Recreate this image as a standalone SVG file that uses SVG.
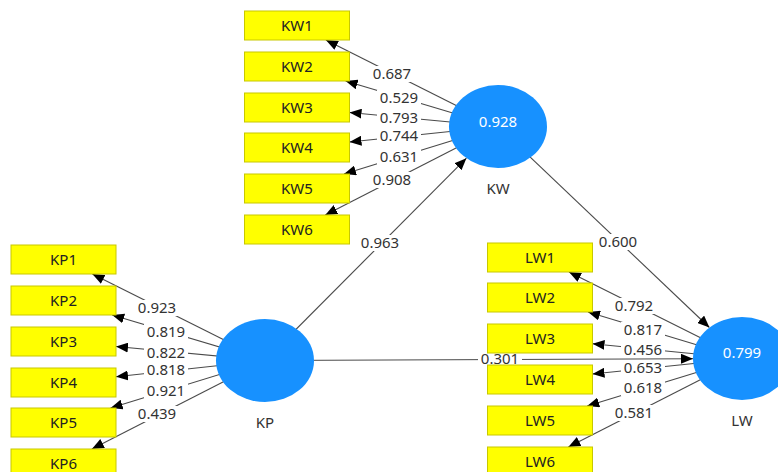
<svg xmlns="http://www.w3.org/2000/svg" width="778" height="472" viewBox="0 0 778 472">
<style>
  .ind rect{fill:#ffff00;stroke:#c8c800;stroke-width:1}
  .ind text{font-family:"Noto Sans","Open Sans",sans-serif;font-size:15px;fill:#222;text-anchor:middle}
  .lv ellipse{fill:#1791ff}
  .lv .v{font-family:"Noto Sans","Open Sans",sans-serif;font-size:15px;fill:#ffffff;text-anchor:middle}
  .lv .n{font-family:"Noto Sans","Open Sans",sans-serif;font-size:15px;fill:#333;text-anchor:middle}
  .conn line{stroke:#4a4a4a;stroke-width:1.1;marker-end:url(#ah)}
  .lbl rect{fill:#ffffff}
  .lbl text{font-family:"Noto Sans","Open Sans",sans-serif;font-size:15px;fill:#333;text-anchor:middle}
</style>
<defs>
  <marker id="ah" markerUnits="userSpaceOnUse" viewBox="0 0 12 10" refX="12" refY="5" markerWidth="12" markerHeight="10" orient="auto">
    <path d="M0,0 L12,5 L0,10 z" fill="#000"/>
  </marker>
</defs>
<rect width="778" height="472" fill="#ffffff"/>

<g id="connectors" class="conn">
  <!-- structural -->
  <line x1="265" y1="360.5" x2="466.4" y2="158.2"/>
  <line x1="498" y1="126.5" x2="709.4" y2="327.5"/>
  <line x1="265" y1="360.5" x2="693" y2="358.7"/>
  <!-- KW loadings -->
  <line x1="498" y1="126.5" x2="325.9" y2="40"/>
  <line x1="498" y1="126.5" x2="345.6" y2="81"/>
  <line x1="498" y1="126.5" x2="349.5" y2="112.5"/>
  <line x1="498" y1="126.5" x2="349.5" y2="142"/>
  <line x1="498" y1="126.5" x2="344" y2="174"/>
  <line x1="498" y1="126.5" x2="325.3" y2="215"/>
  <!-- KP loadings -->
  <line x1="265" y1="360.5" x2="92.4" y2="274"/>
  <line x1="265" y1="360.5" x2="112.2" y2="315"/>
  <line x1="265" y1="360.5" x2="116" y2="346.5"/>
  <line x1="265" y1="360.5" x2="116" y2="376.8"/>
  <line x1="265" y1="360.5" x2="110.6" y2="408"/>
  <line x1="265" y1="360.5" x2="91.9" y2="449"/>
  <!-- LW loadings -->
  <line x1="742" y1="358.5" x2="569" y2="272"/>
  <line x1="742" y1="358.5" x2="588" y2="312"/>
  <line x1="742" y1="358.5" x2="592.5" y2="343.7"/>
  <line x1="742" y1="358.5" x2="592.5" y2="374"/>
  <line x1="742" y1="358.5" x2="587.2" y2="406"/>
  <line x1="742" y1="358.5" x2="568.4" y2="447"/>

  <g class="lbl">
    <rect x="358" y="235" width="44" height="16"/><text x="380" y="248.4">0.963</text>
    <rect x="596" y="234" width="44" height="16"/><text x="618" y="247.4">0.600</text>
    <rect x="478" y="351" width="44" height="16"/><text x="500" y="364.4">0.301</text>

    <rect x="370" y="66" width="44" height="16"/><text x="392" y="79.4">0.687</text>
    <rect x="377" y="90" width="44" height="16"/><text x="399" y="103.4">0.529</text>
    <rect x="377" y="110" width="44" height="16"/><text x="399" y="123.4">0.793</text>
    <rect x="377" y="128" width="44" height="16"/><text x="399" y="141.4">0.744</text>
    <rect x="377" y="149" width="44" height="16"/><text x="399" y="162.4">0.631</text>
    <rect x="370" y="172" width="44" height="16"/><text x="392" y="185.4">0.908</text>

    <rect x="135" y="300" width="44" height="16"/><text x="157" y="313.4">0.923</text>
    <rect x="144" y="324" width="44" height="16"/><text x="166" y="337.4">0.819</text>
    <rect x="144" y="345" width="44" height="16"/><text x="166" y="358.4">0.822</text>
    <rect x="144" y="362" width="44" height="16"/><text x="166" y="375.4">0.818</text>
    <rect x="144" y="383" width="44" height="16"/><text x="166" y="396.4">0.921</text>
    <rect x="135" y="406" width="44" height="16"/><text x="157" y="419.4">0.439</text>

    <rect x="612" y="298" width="44" height="16"/><text x="634" y="311.4">0.792</text>
    <rect x="621" y="322" width="44" height="16"/><text x="643" y="335.4">0.817</text>
    <rect x="621" y="342" width="44" height="16"/><text x="643" y="355.4">0.456</text>
    <rect x="621" y="360" width="44" height="16"/><text x="643" y="373.4">0.653</text>
    <rect x="621" y="380" width="44" height="16"/><text x="643" y="393.4">0.618</text>
    <rect x="612" y="405" width="44" height="16"/><text x="634" y="418.4">0.581</text>
  </g>
</g>

<g id="KW" class="lv"><ellipse cx="498" cy="126.5" rx="49" ry="41.5"/><text class="v" x="498" y="127">0.928</text><text class="n" x="498" y="194.4">KW</text></g>
<g id="KP" class="lv"><ellipse cx="265" cy="360.5" rx="49" ry="41.5"/><text class="n" x="265" y="428.4">KP</text></g>
<g id="LW" class="lv"><ellipse cx="742" cy="358.5" rx="49" ry="41.5"/><text class="v" x="742" y="358.4">0.799</text><text class="n" x="742" y="426.4">LW</text></g>

<g id="KW1" class="ind"><rect x="244.5" y="11" width="105" height="29"/><text x="297" y="30.9">KW1</text></g>
<g id="KW2" class="ind"><rect x="244.5" y="52" width="105" height="29"/><text x="297" y="71.9">KW2</text></g>
<g id="KW3" class="ind"><rect x="244.5" y="93" width="105" height="29"/><text x="297" y="112.9">KW3</text></g>
<g id="KW4" class="ind"><rect x="244.5" y="133" width="105" height="29"/><text x="297" y="152.9">KW4</text></g>
<g id="KW5" class="ind"><rect x="244.5" y="174" width="105" height="29"/><text x="297" y="193.9">KW5</text></g>
<g id="KW6" class="ind"><rect x="244.5" y="215" width="105" height="29"/><text x="297" y="234.9">KW6</text></g>

<g id="KP1" class="ind"><rect x="11" y="245" width="105" height="29"/><text x="63.5" y="264.9">KP1</text></g>
<g id="KP2" class="ind"><rect x="11" y="286" width="105" height="29"/><text x="63.5" y="305.9">KP2</text></g>
<g id="KP3" class="ind"><rect x="11" y="327" width="105" height="29"/><text x="63.5" y="346.9">KP3</text></g>
<g id="KP4" class="ind"><rect x="11" y="368" width="105" height="29"/><text x="63.5" y="387.9">KP4</text></g>
<g id="KP5" class="ind"><rect x="11" y="408" width="105" height="29"/><text x="63.5" y="427.9">KP5</text></g>
<g id="KP6" class="ind"><rect x="11" y="449" width="105" height="29"/><text x="63.5" y="468.9">KP6</text></g>

<g id="LW1" class="ind"><rect x="487.5" y="243" width="105" height="29"/><text x="540" y="262.9">LW1</text></g>
<g id="LW2" class="ind"><rect x="487.5" y="283" width="105" height="29"/><text x="540" y="302.9">LW2</text></g>
<g id="LW3" class="ind"><rect x="487.5" y="324" width="105" height="29"/><text x="540" y="343.9">LW3</text></g>
<g id="LW4" class="ind"><rect x="487.5" y="365" width="105" height="29"/><text x="540" y="384.9">LW4</text></g>
<g id="LW5" class="ind"><rect x="487.5" y="406" width="105" height="29"/><text x="540" y="425.9">LW5</text></g>
<g id="LW6" class="ind"><rect x="487.5" y="447" width="105" height="29"/><text x="540" y="466.9">LW6</text></g>
</svg>
